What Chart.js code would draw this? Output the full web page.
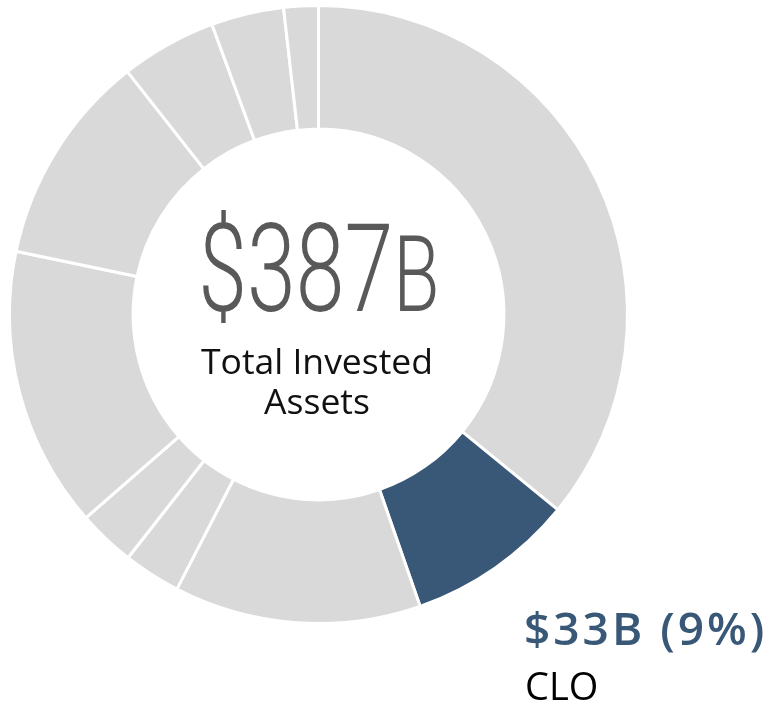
<!DOCTYPE html>
<html>
<head>
<meta charset="utf-8">
<script src="https://cdn.jsdelivr.net/npm/chart.js@4"></script>
<style>
    body { margin: 0; background: #fff; }
    #contenedor { position: relative; width: 772px; height: 704px; }
    #contenedor canvas { position: absolute; left: 0; top: 0; }
    .texto { position: absolute; white-space: nowrap; }
    #total {
        top: 209px; font-family: Roboto, sans-serif; font-weight: 300;
        font-size: 122px; line-height: 122px; color: #595959;
        transform: scaleX(0.72); transform-origin: 200px 0;
    }
    #total span { font-size: 105px; }
    #subtitulo {
        top: 340px; font-family: "Open Sans", sans-serif; font-size: 35.5px;
        line-height: 40px; color: #111;
    }
    #valorClo {
        left: 524px; top: 604px; font-family: "Open Sans", sans-serif; font-weight: 600;
        font-size: 46px; line-height: 46px; color: #395878; letter-spacing: 3px;
    }
    #nombreClo {
        left: 525px; top: 666px; font-family: "Open Sans", sans-serif;
        font-size: 38px; line-height: 38px; color: #000;
    }
</style>
</head>
<body>
<div id="contenedor">
    <canvas id="graficoActivos" width="772" height="704"></canvas>
    <div id="total" class="texto" style="left:119px;width:400px;text-align:center">$387<span>B</span></div>
    <div id="subtitulo" class="texto" style="left:117px;width:400px;text-align:center">Total Invested<br>Assets</div>
    <div id="valorClo" class="texto">$33B (9%)</div>
    <div id="nombreClo" class="texto">CLO</div>
</div>
<script>
// valores en $B, sentido horario desde arriba
const categorias = ["Otros 1", "CLO", "Otros 2", "Otros 3", "Otros 4", "Otros 5", "Otros 6", "Otros 7", "Otros 8", "Otros 9"];
const valores = [139, 34, 50, 11.6, 11.6, 57, 43, 19.4, 14.7, 7];
const destacado = "CLO";

function cargarGrafico() {
    const ctx = document.getElementById("graficoActivos").getContext("2d");

    const colores = categorias.map(c => c === destacado ? "#395878" : "#d9d9d9");

    new Chart(ctx, {
        type: "doughnut",
        data: {
            labels: categorias,
            datasets: [{
                data: valores,
                backgroundColor: colores,
                borderColor: "#ffffff",
                borderWidth: 3
            }]
        },
        options: {
            responsive: false,
            animation: false,
            cutout: "60%",
            layout: { padding: { left: 8, top: 4, right: 143, bottom: 79 } },
            plugins: {
                legend: { display: false },
                tooltip: { enabled: false }
            }
        }
    });
}

window.addEventListener("DOMContentLoaded", () => {
    cargarGrafico();
});
</script>
</body>
</html>
